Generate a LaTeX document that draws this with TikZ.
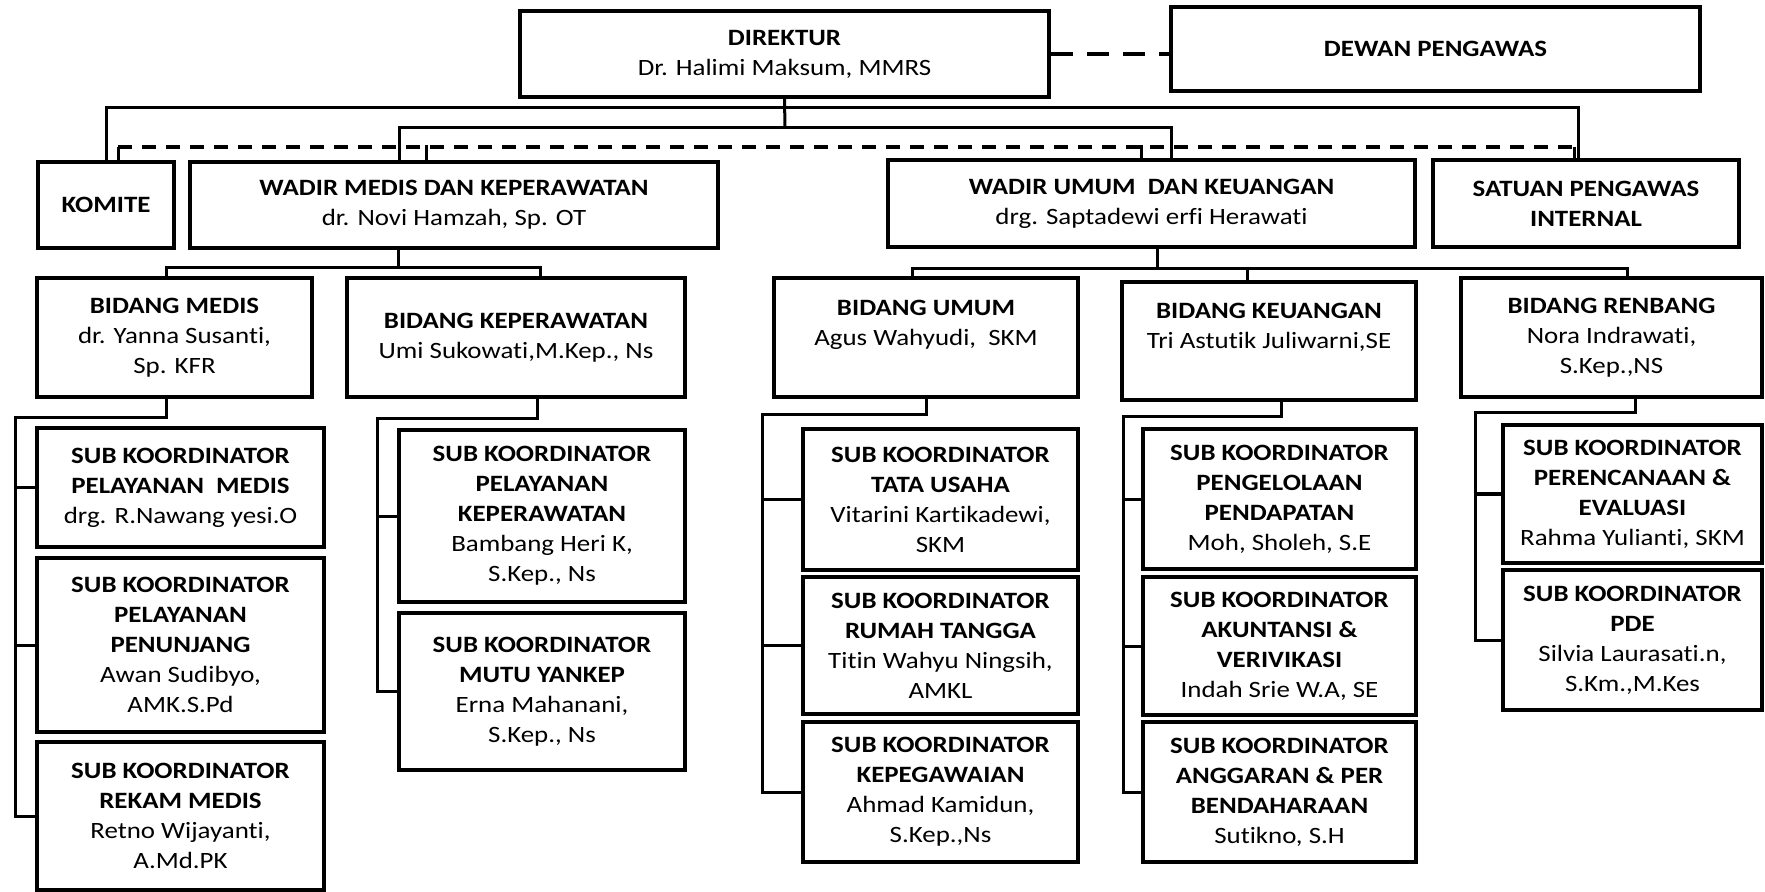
\documentclass[tikz,border=0pt]{standalone}
\usepackage{fontspec}
\setmainfont[FakeStretch=1.15,Ligatures=NoCommon]{Carlito}
\usetikzlibrary{calc}
\tikzset{
	box/.style={draw, line width=2.1pt, align=center, inner sep=2pt,
			font=\fontsize{11.7}{15}\selectfont},
	wh/.style 2 args={minimum width=#1, minimum height=#2},
	conn/.style={line width=1.5pt},
	dashline/.style={line width=2pt, dash pattern=on 7pt off 5pt},
}
\begin{document}
\begin{tikzpicture}[x=0.5pt,y=-0.5pt]
		\fill[white] (0,0) rectangle (1765,892);
		\useasboundingbox (0,0) rectangle (1765,892);
		% top
		\node[box, wh={264.5pt}{43pt}] (direktur) at (784.5,54) {\textbf{DIREKTUR}\\Dr. Halimi Maksum, MMRS};
		\node[box, wh={264.5pt}{42pt}] (dewan) at (1435.5,49) {\textbf{DEWAN PENGAWAS}};
		% second row
		\node[box, wh={68pt}{43pt}] (komite) at (106,205) {\textbf{KOMITE}};
		\node[box, wh={264pt}{43pt}] (wadirmedis) at (454,205) {\textbf{WADIR MEDIS DAN KEPERAWATAN}\\dr. Novi Hamzah, Sp. OT};
		\node[box, wh={263.5pt}{43.5pt}] (wadirumum) at (1151.5,203.5) {\textbf{WADIR UMUM\ \ DAN KEUANGAN}\\drg. Saptadewi erfi Herawati};
		\node[box, wh={153pt}{43.5pt}] (spi) at (1586,203.5) {\textbf{SATUAN PENGAWAS}\\\textbf{INTERNAL}};
		% bidang
		\node[box, wh={137.5pt}{59.5pt}] (bmedis) at (174.5,337.5) {\textbf{BIDANG MEDIS}\\dr. Yanna Susanti,\\Sp. KFR};
		\node[box, wh={169pt}{59.5pt}] (bkep) at (516,337.5) {\textbf{BIDANG KEPERAWATAN}\\Umi Sukowati,M.Kep., Ns};
		\node[box, wh={152pt}{59.5pt}] (bumum) at (926,337.5) {\textbf{BIDANG UMUM}\\Agus Wahyudi,\ \ SKM\\\mbox{}};
		\node[box, wh={147pt}{59pt}] (bkeu) at (1269,341) {\textbf{BIDANG KEUANGAN}\\Tri Astutik Juliwarni,SE\\\mbox{}};
		\node[box, wh={150.5pt}{59.5pt}] (brenbang) at (1611.5,337.5) {\textbf{BIDANG RENBANG}\\Nora Indrawati,\\S.Kep.,NS};
		% sub koordinator
		\node[box, wh={143.5pt}{59.5pt}] (s11) at (180.5,487.5) {\textbf{SUB KOORDINATOR}\\\textbf{PELAYANAN\ \ MEDIS}\\drg. R.Nawang yesi.O};
		\node[box, wh={143.5pt}{87pt}] (s12) at (180.5,645) {\textbf{SUB KOORDINATOR}\\\textbf{PELAYANAN}\\\textbf{PENUNJANG}\\Awan Sudibyo,\\AMK.S.Pd};
		\node[box, wh={143.5pt}{74pt}] (s13) at (180.5,816) {\textbf{SUB KOORDINATOR}\\\textbf{REKAM MEDIS}\\Retno Wijayanti,\\A.Md.PK};
		\node[box, wh={143pt}{86pt}] (s21) at (542,516) {\textbf{SUB KOORDINATOR}\\\textbf{PELAYANAN}\\\textbf{KEPERAWATAN}\\Bambang Heri K,\\S.Kep., Ns};
		\node[box, wh={143pt}{78.5pt}] (s22) at (542,691.5) {\textbf{SUB KOORDINATOR}\\\textbf{MUTU YANKEP}\\Erna Mahanani,\\S.Kep., Ns};
		\node[box, wh={137.5pt}{70.5pt}] (s31) at (940.5,499.5) {\textbf{SUB KOORDINATOR}\\\textbf{TATA USAHA}\\Vitarini Kartikadewi,\\SKM};
		\node[box, wh={137.5pt}{68.5pt}] (s32) at (940.5,645.5) {\textbf{SUB KOORDINATOR}\\\textbf{RUMAH TANGGA}\\Titin Wahyu Ningsih,\\AMKL};
		\node[box, wh={137.5pt}{70pt}] (s33) at (940.5,792) {\textbf{SUB KOORDINATOR}\\\textbf{KEPEGAWAIAN}\\Ahmad Kamidun,\\S.Kep.,Ns};
		\node[box, wh={136.5pt}{70pt}] (s41) at (1279.5,499) {\textbf{SUB KOORDINATOR}\\\textbf{PENGELOLAAN}\\\textbf{PENDAPATAN}\\Moh, Sholeh, S.E};
		\node[box, wh={136.5pt}{69pt}] (s42) at (1279.5,646) {\textbf{SUB KOORDINATOR}\\\textbf{AKUNTANSI \&}\\\textbf{VERIVIKASI}\\Indah Srie W.A, SE};
		\node[box, wh={136.5pt}{70pt}] (s43) at (1279.5,792) {\textbf{SUB KOORDINATOR}\\\textbf{ANGGARAN \& PER}\\\textbf{BENDAHARAAN}\\Sutikno, S.H};
		\node[box, wh={129.5pt}{69pt}] (s51) at (1632.5,494) {\textbf{SUB KOORDINATOR}\\\textbf{PERENCANAAN \&}\\\textbf{EVALUASI}\\Rahma Yulianti, SKM};
		\node[box, wh={129.5pt}{70pt}] (s52) at (1632.5,640) {\textbf{SUB KOORDINATOR}\\\textbf{PDE}\\Silvia Laurasati.n,\\S.Km.,M.Kes};
		% direktur lines
		\coordinate (bus1) at (785,108);
		\coordinate (bus2) at (785,128);
		\draw[dashline, dash pattern=on 11pt off 7pt] (direktur.east) -- (direktur.east -| dewan.west);
		\draw[conn] (direktur.south) -- (bus2);
		\draw[conn] (komite.north) |- (bus1) -| ([xshift=-4pt]spi.north);
		\draw[conn] ([xshift=-27.5pt]wadirmedis.north) |- (bus2) -| ([xshift=10pt]wadirumum.north);
		\coordinate (dashL) at (118,147);
		\coordinate (dashR) at (1574,147);
		\draw[dashline] (dashL) -- (dashR);
		\draw[conn] (dashL) -- (dashL |- komite.north);
		\draw[conn] (dashR) -- (dashR |- spi.north);
		\draw[conn] ([xshift=-14pt]wadirmedis.north) -- ++(0,-15);
		\draw[conn] ([xshift=-5pt]wadirumum.north) -- ++(0,-13);
		% wadir to bidang
		\draw[conn] ([xshift=-28pt]wadirmedis.south) -- ++(0,17) coordinate (medbus);
		\draw[conn] ([xshift=-4pt]bmedis.north) |- (medbus) -| ([xshift=12pt]bkep.north);
		\draw[conn] ([xshift=3pt]wadirumum.south) -- ++(0,19) coordinate (umbus);
		\draw[conn] ([xshift=-7pt]bumum.north) |- (umbus) -| ([xshift=8pt]brenbang.north);
		\draw[conn] ([xshift=-11pt]bkeu.north) -- ([xshift=-11pt]bkeu.north |- umbus);
		% bidang to sub koordinator
		\coordinate (sp1) at (15,418);
		\coordinate (sp2) at (377,419);
		\coordinate (sp3) at (762,415);
		\coordinate (sp4) at (1123,417);
		\coordinate (sp5) at (1475,413);
		\draw[conn] ([xshift=-4pt]bmedis.south) |- (sp1) |- (s13.west);
		\draw[conn] ([xshift=10.5pt]bkep.south) |- (sp2) |- (s22.west);
		\draw[conn] (bumum.south) |- (sp3) |- (s33.west);
		\draw[conn] ([xshift=6pt]bkeu.south) |- (sp4) |- (s43.west);
		\draw[conn] ([xshift=12pt]brenbang.south) |- (sp5) |- (s52.west);
		\foreach \s/\p in {s11/sp1,s12/sp1,s21/sp2,s31/sp3,s32/sp3,s41/sp4,s42/sp4,s51/sp5}
			\draw[conn] (\p |- \s.west) -- (\s.west);
	\end{tikzpicture}
\end{document}
